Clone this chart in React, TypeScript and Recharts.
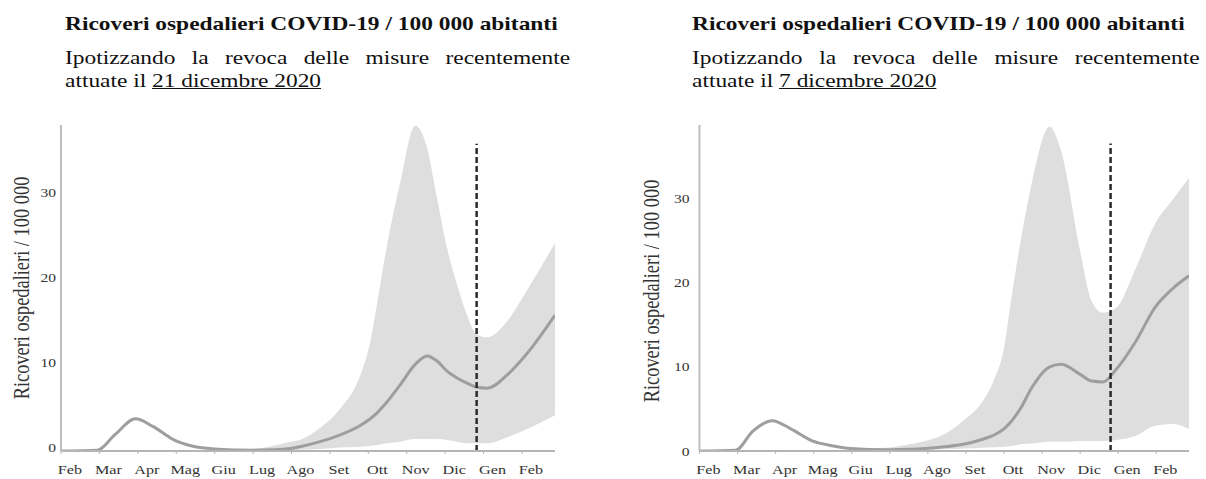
import React from "react"
import { ComposedChart, Area, Line, XAxis, YAxis, ReferenceLine } from "recharts"

// month index: 0 = Feb 2020 ... 12 = Feb 2021
const monthLabels = ["Feb", "Mar", "Apr", "Mag", "Giu", "Lug", "Ago", "Set", "Ott", "Nov", "Dic", "Gen", "Feb"]
const monthTicks = [0, 1, 2, 3, 4, 5, 6, 7, 8, 9, 10, 11, 12]
const yTicks = [0, 10, 20, 30]

// left panel: revoca 21 dicembre 2020
const leftX = [0, 0.95, 1.4, 1.94, 2.39, 2.94, 3.49, 3.99, 4.94, 5.5, 5.98, 6.22, 6.74, 7.27, 7.79, 8.05, 8.23, 8.49, 8.83, 9.22, 9.53, 9.79, 10.05, 10.31, 10.57, 10.83, 11.09, 11.6, 12.1, 12.86]
const leftMean = [0, 0.1, 1.9, 3.8, 2.9, 1.3, 0.5, 0.25, 0.1, 0.15, 0.3, 0.5, 1.1, 1.9, 3.0, 3.8, 4.5, 5.8, 7.8, 10.2, 11.2, 10.6, 9.4, 8.6, 8.0, 7.5, 7.4, 8.9, 11.3, 16]
const leftLow = [0, 0.1, 1.9, 3.8, 2.9, 1.3, 0.5, 0.2, 0.05, 0.05, 0.1, 0.15, 0.25, 0.4, 0.5, 0.6, 0.7, 0.9, 1.1, 1.4, 1.4, 1.4, 1.3, 1.1, 0.9, 0.9, 0.9, 1.6, 2.5, 4.2]
const leftHigh = [0, 0.1, 1.9, 3.8, 2.9, 1.3, 0.5, 0.3, 0.25, 0.6, 1.1, 1.3, 2.7, 5.0, 8.9, 12.8, 17.4, 24.3, 31.6, 38.3, 35.7, 29.8, 23.9, 19.6, 16, 13.7, 13.4, 15.2, 18.7, 24.5]

// right panel: revoca 7 dicembre 2020
const rightX = [0, 0.95, 1.41, 1.91, 2.41, 2.96, 3.52, 3.97, 4.92, 5.43, 5.93, 6.43, 6.93, 7.44, 7.74, 7.99, 8.19, 8.44, 8.74, 9.2, 9.5, 10.0, 10.3, 10.6, 10.95, 11.46, 11.96, 12.46, 12.86]
const rightMean = [0, 0.1, 2.4, 3.6, 2.6, 1.2, 0.6, 0.3, 0.15, 0.2, 0.3, 0.5, 0.8, 1.4, 1.9, 2.6, 3.5, 5.1, 7.6, 10.0, 10.3, 9.1, 8.3, 8.2, 9.7, 13, 17, 19.4, 20.8]
const rightLow = [0, 0.1, 2.4, 3.6, 2.6, 1.2, 0.6, 0.3, 0.1, 0.1, 0.15, 0.2, 0.3, 0.4, 0.45, 0.5, 0.6, 0.8, 0.9, 1.1, 1.1, 1.2, 1.2, 1.2, 1.3, 1.8, 3.0, 3.2, 2.6]
const rightHigh = [0, 0.1, 2.4, 3.6, 2.6, 1.2, 0.6, 0.3, 0.4, 0.7, 1.2, 2.0, 3.6, 5.9, 8.5, 12.0, 18.0, 25.0, 32.0, 38.5, 35.6, 23.7, 17.8, 16.4, 17, 21.7, 26.9, 30, 32.4]

const title = "Ricoveri ospedalieri COVID-19 / 100 000 abitanti"
const subtitleLine1 = "Ipotizzando la revoca delle misure recentemente"
const yLabel = "Ricoveri ospedalieri / 100 000"

const serif = "'Liberation Serif', 'Times New Roman', serif"
const stretch = 1.2

function buildRows(xs: number[], mean: number[], low: number[], high: number[]) {
  return xs.map((x, i) => ({ x, mean: mean[i], band: [low[i], high[i]] }))
}

function XTick(props: any) {
  const { x, y, payload } = props
  return (
    <text
      transform={`translate(${x + 9},${y}) scale(${stretch},1)`}
      textAnchor="middle"
      dy={18}
      fontSize={13.5}
      fontFamily={serif}
      fill="#333"
    >
      {monthLabels[payload.value]}
    </text>
  )
}

function makeYTick(shift: number) {
  return (props: any) => {
    const { x, y, payload } = props
    return (
      <text
        transform={`translate(${x},${y + shift}) scale(${stretch},1)`}
        textAnchor="end"
        dy="0.35em"
        fontSize={13}
        fontFamily={serif}
        fill="#333"
      >
        {payload.value}
      </text>
    )
  }
}

type PanelProps = {
  left: number
  width: number
  axisX: number
  plotRight: number
  yMax: number
  tickGap: number
  labelShift: number
  rows: { x: number; mean: number; band: number[] }[]
  dashX: number
  dashTop: number
  titleLeft: number
  textWidth: number
  date: string
  yLabelX: number
  yLabelY: number
}

function Panel(p: PanelProps) {
  return (
    <>
      <div
        style={{
          position: "absolute",
          left: p.titleLeft,
          top: 12,
          transform: `scaleX(${stretch})`,
          transformOrigin: "left top",
          fontFamily: serif,
          color: "#111",
          fontSize: 19.5,
          lineHeight: "23px",
          whiteSpace: "nowrap",
        }}
      >
        <div style={{ fontWeight: "bold" }}>{title}</div>
        <div style={{ marginTop: 11, width: p.textWidth, textAlign: "justify", textAlignLast: "justify" }}>
          {subtitleLine1}
        </div>
        <div>
          attuate il <span style={{ textDecoration: "underline" }}>{p.date}</span>
        </div>
      </div>
      <div
        style={{
          position: "absolute",
          left: p.yLabelX,
          top: p.yLabelY,
          transform: `translate(-50%, -50%) scaleX(${stretch}) rotate(-90deg)`,
          fontFamily: serif,
          fontSize: 18.4,
          color: "#333",
          whiteSpace: "nowrap",
          lineHeight: "20px",
        }}
      >
        {yLabel}
      </div>
      <div style={{ position: "absolute", left: p.left, top: 0 }}>
        <ComposedChart
          width={p.width}
          height={479}
          data={p.rows}
          margin={{ top: 125, right: p.width - (p.plotRight - p.left), bottom: 0, left: 0 }}
        >
          <XAxis
            dataKey="x"
            type="number"
            domain={[0, 12.86]}
            ticks={monthTicks}
            allowDataOverflow
            height={28}
            tickSize={3}
            tickMargin={2}
            axisLine={{ stroke: "#b5b5b5", strokeWidth: 2 }}
            tickLine={{ stroke: "#b5b5b5", strokeWidth: 1 }}
            tick={XTick}
            interval={0}
          />
          <YAxis
            type="number"
            domain={[0, p.yMax]}
            ticks={yTicks}
            allowDataOverflow
            width={p.axisX - p.left}
            tickSize={0}
            tickMargin={p.tickGap}
            tickLine={false}
            axisLine={{ stroke: "#bdbdbd", strokeWidth: 2 }}
            tick={makeYTick(p.labelShift)}
          />
          <Area
            dataKey="band"
            type="monotone"
            stroke="none"
            fill="#dedede"
            fillOpacity={1}
            isAnimationActive={false}
          />
          <Line
            dataKey="mean"
            type="monotone"
            stroke="#9e9e9e"
            strokeWidth={3}
            dot={false}
            isAnimationActive={false}
          />
          <ReferenceLine
            segment={[
              { x: p.dashX, y: 0 },
              { x: p.dashX, y: p.dashTop },
            ]}
            stroke="#2b2b2b"
            strokeWidth={2.5}
            strokeDasharray="6 3"
          />
        </ComposedChart>
      </div>
    </>
  )
}

export default function App() {
  return (
    <div
      style={{
        position: "absolute",
        left: 0,
        top: 0,
        width: 1206,
        height: 479,
        background: "#fff",
        overflow: "hidden",
      }}
    >
      <Panel
        left={0}
        width={580}
        axisX={61}
        plotRight={555}
        yMax={38.4}
        tickGap={5}
        labelShift={-4}
        rows={buildRows(leftX, leftMean, leftLow, leftHigh)}
        dashX={10.82}
        dashTop={36.2}
        titleLeft={65}
        textWidth={421}
        date="21 dicembre 2020"
        yLabelX={22}
        yLabelY={288}
      />
      <Panel
        left={600}
        width={606}
        axisX={699.5}
        plotRight={1189}
        yMax={38.7}
        tickGap={10}
        labelShift={0}
        rows={buildRows(rightX, rightMean, rightLow, rightHigh)}
        dashX={10.8}
        dashTop={36.5}
        titleLeft={692}
        textWidth={423}
        date="7 dicembre 2020"
        yLabelX={652}
        yLabelY={291}
      />
    </div>
  )
}
